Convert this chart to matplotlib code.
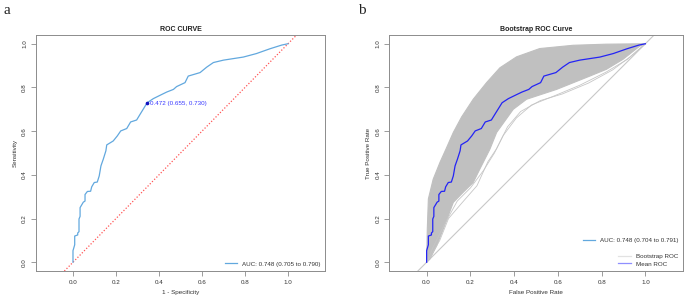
import matplotlib
matplotlib.use("Agg")
import matplotlib.pyplot as plt
from matplotlib.lines import Line2D

# ---- data ----
roc_fpr = [0, 0, 0.008, 0.008, 0.022, 0.022, 0.028, 0.028, 0.033, 0.033, 0.048, 0.056, 0.056,
           0.067, 0.082, 0.087, 0.099, 0.113, 0.122, 0.130, 0.141, 0.153, 0.157, 0.187, 0.206,
           0.222, 0.25, 0.268, 0.296, 0.312, 0.345, 0.374, 0.413, 0.436, 0.467, 0.482, 0.521,
           0.536, 0.591, 0.622, 0.653, 0.70, 0.792, 0.853, 0.916, 0.971, 1.0]
roc_tpr = [0, 0.053, 0.08, 0.12, 0.125, 0.134, 0.14, 0.198, 0.21, 0.25, 0.275, 0.28, 0.31,
           0.324, 0.325, 0.345, 0.365, 0.367, 0.395, 0.441, 0.472, 0.51, 0.537, 0.555, 0.578,
           0.601, 0.612, 0.642, 0.651, 0.677, 0.730, 0.749, 0.768, 0.779, 0.791, 0.804, 0.822,
           0.852, 0.868, 0.893, 0.914, 0.925, 0.939, 0.955, 0.977, 0.994, 1.0]

best_fpr = 0.345
best_tpr = 0.730
best_label = "0.472 (0.655, 0.730)"

band_upper_fpr = [0, 0.003, 0.008, 0.03, 0.061, 0.088, 0.122, 0.16, 0.213, 0.274, 0.335,
                  0.411, 0.517, 0.67, 0.82, 1.0]
band_upper_tpr = [0, 0.15, 0.29, 0.38, 0.457, 0.517, 0.594, 0.665, 0.746, 0.822, 0.89,
                  0.94, 0.978, 0.993, 0.998, 1.0]
band_lower_fpr = [0, 0.015, 0.046, 0.076, 0.122, 0.167, 0.213, 0.243, 0.289, 0.32, 0.396,
                  0.457, 0.594, 0.746, 0.822, 0.898, 0.974, 1.0]
band_lower_tpr = [0, 0.015, 0.076, 0.152, 0.274, 0.32, 0.365, 0.426, 0.517, 0.594, 0.7,
                  0.746, 0.791, 0.852, 0.883, 0.929, 0.989, 1.0]

outlier1_fpr = [0, 0.02, 0.06, 0.1, 0.16, 0.23, 0.28, 0.32, 0.37, 0.43, 0.52, 0.62, 0.74,
                0.85, 0.93, 1.0]
outlier1_tpr = [0, 0.03, 0.1, 0.2, 0.27, 0.35, 0.46, 0.52, 0.62, 0.69, 0.74, 0.77, 0.82,
                0.88, 0.94, 1.0]
outlier2_fpr = [0, 0.03, 0.08, 0.14, 0.2, 0.26, 0.31, 0.35, 0.41, 0.48, 0.58, 0.7, 0.82,
                0.92, 1.0]
outlier2_tpr = [0, 0.07, 0.17, 0.28, 0.34, 0.42, 0.5, 0.58, 0.66, 0.72, 0.76, 0.81, 0.87,
                0.93, 1.0]

ticks = [0.0, 0.2, 0.4, 0.6, 0.8, 1.0]
tick_labels = ["0.0", "0.2", "0.4", "0.6", "0.8", "1.0"]

auc_a = "AUC: 0.748 (0.705 to 0.790)"
auc_b = "AUC: 0.748 (0.704 to 0.791)"

# ---- style ----
plt.rcParams['font.family'] = ['Liberation Sans', 'DejaVu Sans']
FS = 4.5
FRAME = '#8c8c8c'
TXT = '#333333'
LIGHTBLUE = '#62a8de'
MEANBLUE = '#2424f5'
BANDGRAY = '#c0c0c0'

W, H = 685, 299
fig = plt.figure(figsize=(W / 100, H / 100), dpi=100)

def make_ax(x0, x1, y0, y1):
    ax = fig.add_axes([x0 / W, 1 - y1 / H, (x1 - x0) / W, (y1 - y0) / H])
    ax.set_xlim(-0.172, 1.172)
    ax.set_ylim(-0.04, 1.04)
    ax.set_xticks(ticks)
    ax.set_xticklabels(tick_labels)
    ax.set_yticks(ticks)
    ax.set_yticklabels(tick_labels, rotation=90, va='center')
    ax.tick_params(axis='both', direction='out', length=3.8, width=0.6, color=FRAME,
                   labelsize=FS, labelcolor=TXT, pad=2.5)
    for s in ax.spines.values():
        s.set_color(FRAME)
        s.set_linewidth(0.7)
    return ax

# ---- panel a ----
axa = make_ax(36, 325, 35, 271)
axa.plot([-0.2, 1.2], [-0.2, 1.2], color='#ff5555', lw=0.9, ls=(0, (1, 1.5)), zorder=1)
axa.plot(roc_fpr, roc_tpr, color=LIGHTBLUE, lw=0.9, zorder=2)
axa.plot([best_fpr], [best_tpr], marker='o', ms=1.6, color='#1010c0', zorder=3)
axa.text(best_fpr + 0.015, best_tpr - 0.002, best_label, color='#3a3aff', fontsize=FS,
         va='center', ha='left')
axa.set_title("ROC CURVE", fontsize=5, fontweight='bold', color='#222222', pad=3)
axa.set_xlabel("1 - Specificity", fontsize=FS, color=TXT, labelpad=4)
axa.set_ylabel("Sensitivity", fontsize=FS, color=TXT, labelpad=3)
leg_a = axa.legend([Line2D([0], [0], color=LIGHTBLUE, lw=0.9)], [auc_a], loc='lower right',
                   fontsize=FS, frameon=False, handlelength=1.9, borderaxespad=0.3,
                   handletextpad=0.9)
for t in leg_a.get_texts():
    t.set_color(TXT)

# ---- panel b ----
axb = make_ax(389, 683, 35, 271)
axb.plot([-0.2, 1.2], [-0.2, 1.2], color='#c8c8c8', lw=0.8, zorder=1)
poly_x = band_upper_fpr + band_lower_fpr[::-1]
poly_y = band_upper_tpr + band_lower_tpr[::-1]
axb.fill(poly_x, poly_y, color=BANDGRAY, lw=0.8, ec=BANDGRAY, zorder=2)
axb.plot(outlier1_fpr, outlier1_tpr, color='#c6c6c6', lw=0.6, zorder=2)
axb.plot(outlier2_fpr, outlier2_tpr, color='#c6c6c6', lw=0.6, zorder=2)
axb.plot(roc_fpr, roc_tpr, color=MEANBLUE, lw=0.9, zorder=3)
axb.set_title("Bootstrap ROC Curve", fontsize=5, fontweight='bold', color='#222222', pad=3)
axb.set_xlabel("False Positive Rate", fontsize=FS, color=TXT, labelpad=4)
axb.set_ylabel("True Positive Rate", fontsize=FS, color=TXT, labelpad=3)

leg_b1 = axb.legend([Line2D([0], [0], color=LIGHTBLUE, lw=0.9)], [auc_b], loc='lower right',
                    bbox_to_anchor=(1.0, 0.1), fontsize=FS, frameon=False, handlelength=1.9,
                    borderaxespad=0.3, handletextpad=0.9)
for t in leg_b1.get_texts():
    t.set_color(TXT)
axb.add_artist(leg_b1)
leg_b2 = axb.legend([Line2D([0], [0], color='#e2e2e2', lw=0.9),
                     Line2D([0], [0], color='#8f8fff', lw=0.9)],
                    ["Bootstrap ROC", "Mean ROC"], loc='lower right', fontsize=FS,
                    frameon=False, handlelength=2.2, borderaxespad=0.3, handletextpad=0.8,
                    labelspacing=0.3)
for t in leg_b2.get_texts():
    t.set_color(TXT)

# ---- panel letters ----
fig.text(3 / W, 1 - 10 / H, "a", fontsize=11, family='Liberation Serif', va='center',
         ha='left', color='#222222')
fig.text(358 / W, 1 - 10 / H, "b", fontsize=11, family='Liberation Serif', va='center',
         ha='left', color='#222222')

fig.savefig("out.png", dpi=100)
